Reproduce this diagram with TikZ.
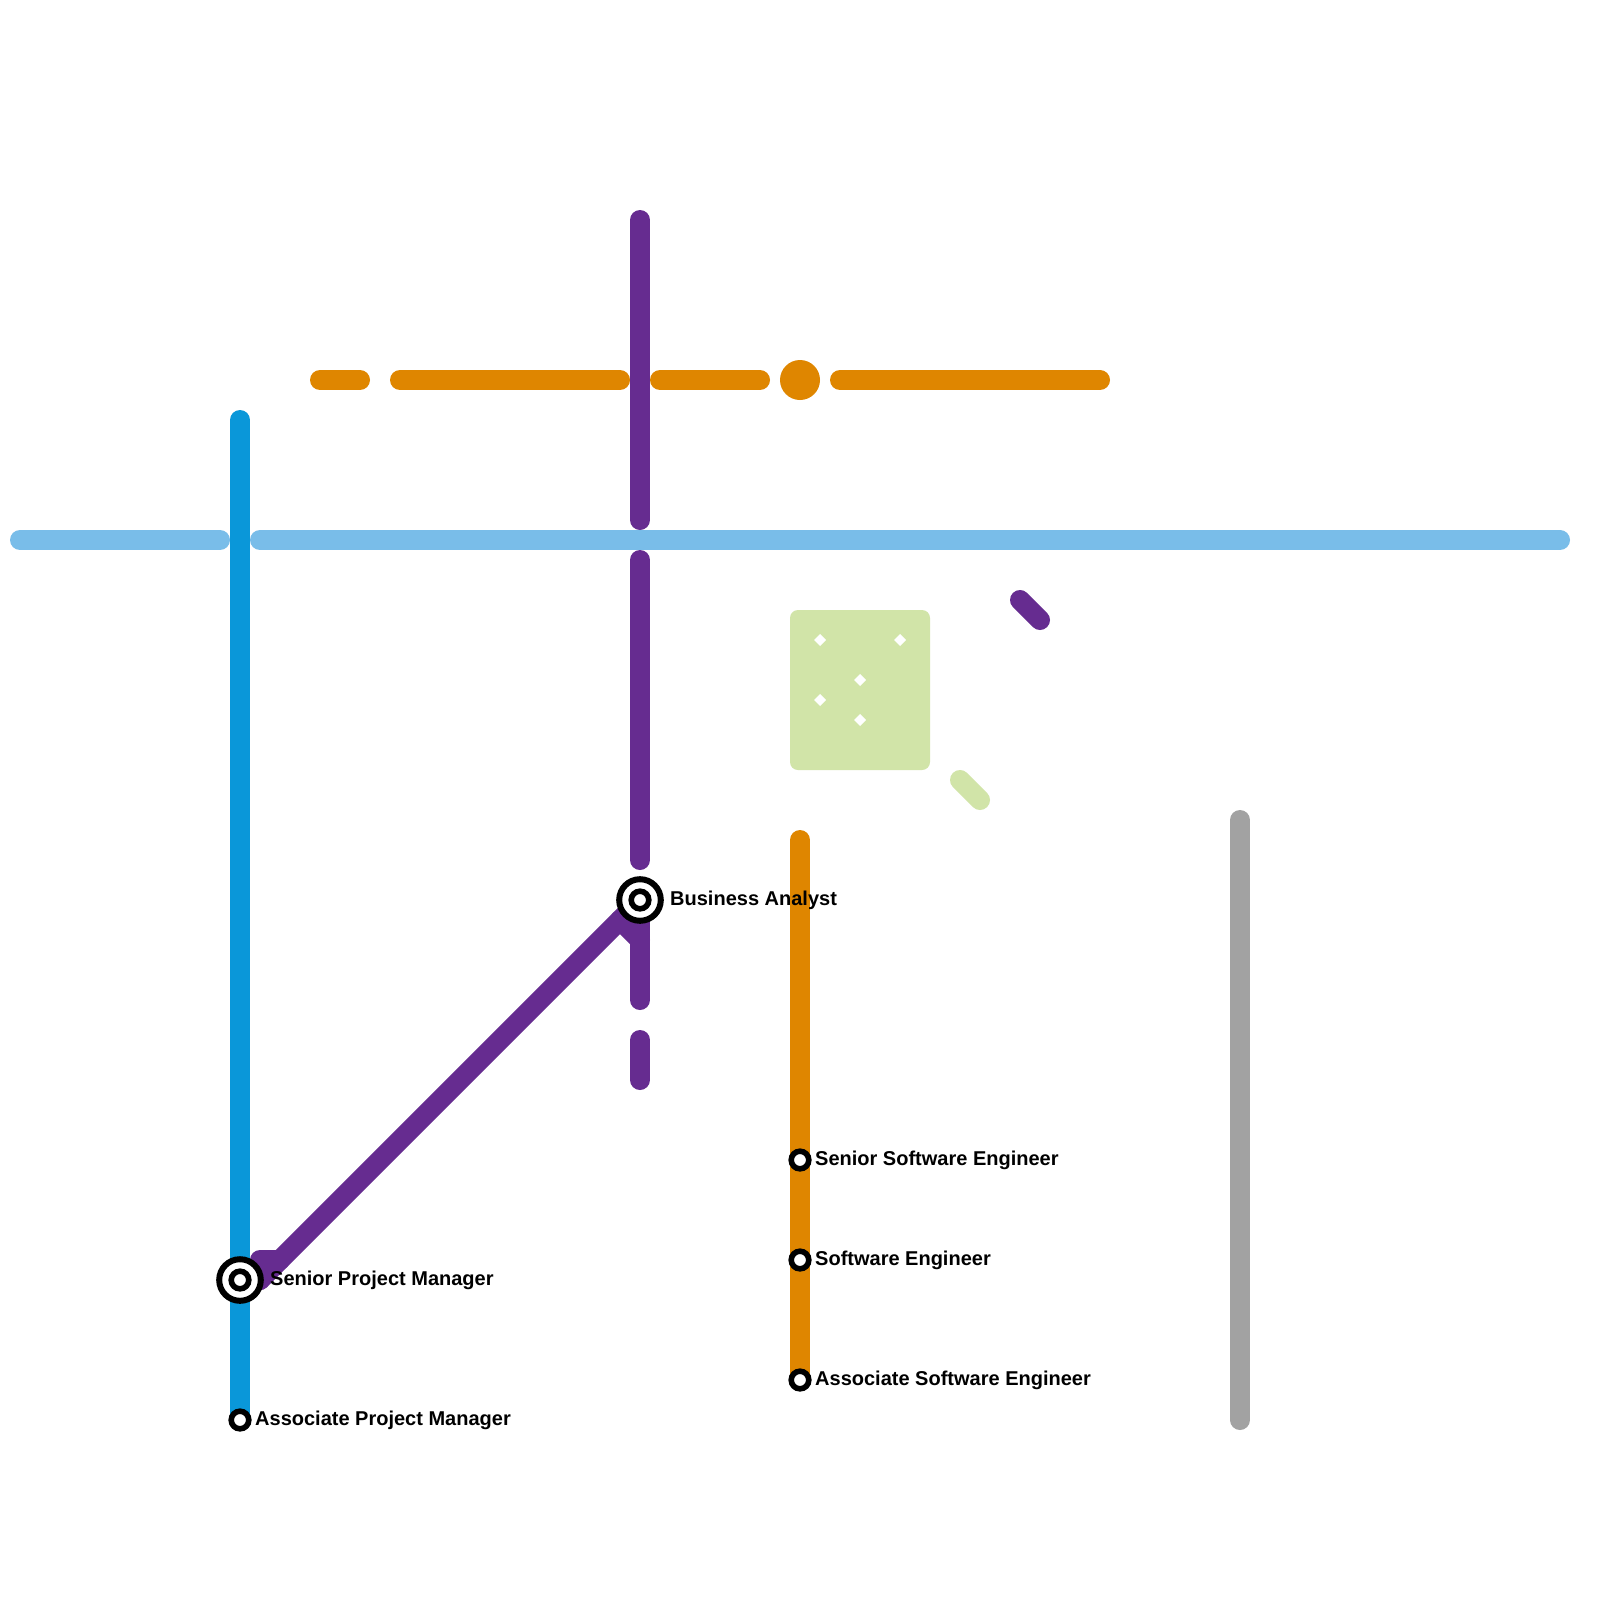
\documentclass[tikz,border=0pt]{standalone}
\usepackage{fontspec}
\setmainfont{Liberation Sans}
\definecolor{cblue}{HTML}{0A97D9}
\definecolor{clight}{HTML}{79BDE9}
\definecolor{cpurple}{HTML}{662C90}
\definecolor{corange}{HTML}{DF8600}
\definecolor{cgray}{HTML}{A2A2A2}
\definecolor{cgreen}{HTML}{D1E4A8}
\tikzset{
  metro/.style={line width=20pt,line cap=round,line join=round},
  stnsmall/.style={circle,draw=black,fill=white,line width=5.6pt,minimum size=17.6pt,inner sep=0pt,outer sep=0pt},
  stnouter/.style={circle,draw=black,fill=white,line width=6pt,minimum size=41.6pt,inner sep=0pt,outer sep=0pt},
  stninner/.style={circle,draw=black,fill=white,line width=5.6pt,minimum size=17.6pt,inner sep=0pt,outer sep=0pt},
  lbl/.style={anchor=base west,inner sep=0pt,font=\fontsize{20pt}{24pt}\selectfont\bfseries,text=black},
  gem/.style={diamond,fill=white,minimum size=12pt,inner sep=0pt,outer sep=0pt},
}
\usetikzlibrary{shapes.geometric}
\begin{document}
\begin{tikzpicture}[x=1pt,y=-1pt]
\useasboundingbox (0,0) rectangle (1600,1600);
\fill[white] (0,0) rectangle (1600,1600);
% light blue line
\coordinate (la) at (20,540); \coordinate (lb) at (220,540);
\coordinate (lc) at (260,540); \coordinate (ld) at (1560,540);
\draw[metro,clight] (la) -- (lb);
\draw[metro,clight] (lc) -- (ld);
% blue line
\coordinate (ba) at (240,420); \coordinate (bb) at (240,1420);
\draw[metro,cblue] (ba) -- (bb);
% orange horizontal
\foreach \n/\p/\q in {oa/320/360,ob/400/620,oc/660/760,od/840/1100}{
  \coordinate (\n1) at (\p,380); \coordinate (\n2) at (\q,380);
  \draw[metro,corange] (\n1) -- (\n2);
}
\node[circle,fill=corange,minimum size=40pt,inner sep=0pt,outer sep=0pt] (oint) at (800,380) {};
% orange vertical
\coordinate (va) at (800,840); \coordinate (vb) at (800,1380);
\draw[metro,corange] (va) -- (vb);
% gray
\coordinate (ga) at (1240,820); \coordinate (gb) at (1240,1420);
\draw[metro,cgray] (ga) -- (gb);
% green block
\node[draw=none,fill=cgreen,rounded corners=8pt,minimum width=140pt,minimum height=160pt,inner sep=0pt,outer sep=0pt] (park) at (860,690) {};
\node[gem] (g1) at (820,640) {};
\node[gem] (g2) at (900,640) {};
\node[gem] (g3) at (860,680) {};
\node[gem] (g4) at (820,700) {};
\node[gem] (g5) at (860,720) {};
\coordinate (ea) at (960,780); \coordinate (eb) at (980,800);
\draw[metro,cgreen] (ea) -- (eb);
% purple
\coordinate (pa) at (640,220); \coordinate (pb) at (640,520);
\coordinate (pc) at (640,560); \coordinate (pd) at (640,860);
\coordinate (pe) at (640,1000); \coordinate (pf) at (640,1040); \coordinate (pg) at (640,1080);
\coordinate (ph) at (640,900); \coordinate (pi) at (640,940); \coordinate (pj) at (620,920);
\coordinate (pk) at (280,1260); \coordinate (pl) at (260,1260); \coordinate (pm) at (260,1280);
\coordinate (qa) at (1020,600); \coordinate (qb) at (1040,620);
\draw[metro,cpurple] (pa) -- (pb);
\draw[metro,cpurple] (pc) -- (pd);
\draw[metro,cpurple] (pe) -- (ph);
\draw[metro,cpurple] (pf) -- (pg);
\draw[metro,cpurple] (pi) -- (pj);
\draw[metro,cpurple] (ph) -- (pm);
\draw[metro,cpurple] (pk) -- (pl) -- (pm);
\draw[metro,cpurple] (qa) -- (qb);
% stations
\node[stnouter] (spm) at (240,1280) {}; \node[stninner] (spmi) at (spm.center) {};
\node[stnouter] (ban) at (640,900) {}; \node[stninner] (bani) at (ban.center) {};
\node[stnsmall] (apm) at (240,1420) {};
\node[stnsmall] (sse) at (800,1160) {};
\node[stnsmall] (swe) at (800,1260) {};
\node[stnsmall] (ase) at (800,1380) {};
% labels
\node[lbl] (tspm) at (270,1285) {Senior Project Manager};
\node[lbl] (tban) at (670,905) {Business Analyst};
\node[lbl] (tapm) at (255,1425) {Associate Project Manager};
\node[lbl] (tsse) at (815,1165) {Senior Software Engineer};
\node[lbl] (tswe) at (815,1265) {Software Engineer};
\node[lbl] (tase) at (815,1385) {Associate Software Engineer};
\end{tikzpicture}
\end{document}
